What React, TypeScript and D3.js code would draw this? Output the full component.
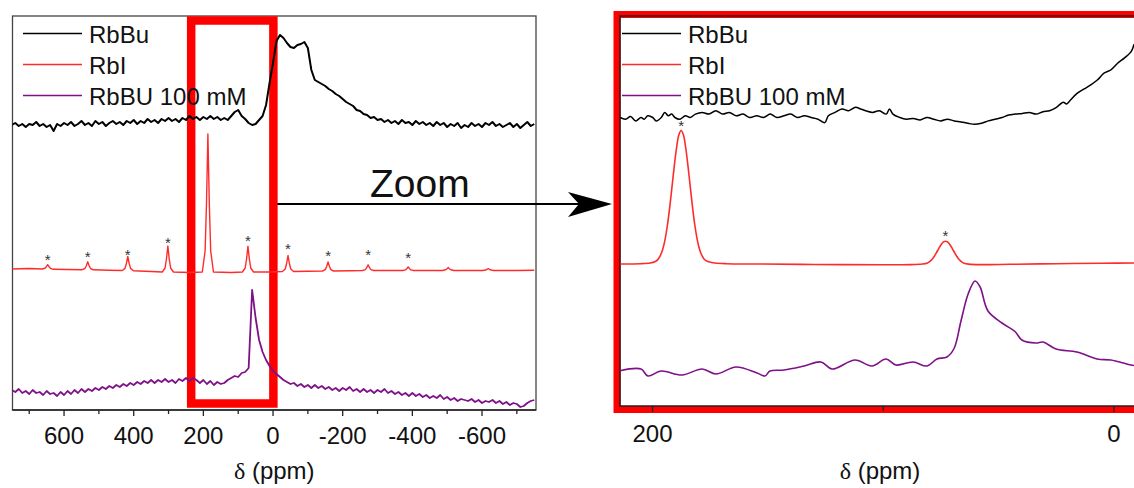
import React from 'react';
import * as d3 from 'd3';

const W = 1134;
const H = 488;

// ---------- shared ----------
const seriesNames = ['RbBu', 'RbI', 'RbBU 100 mM'];
const seriesColors = ['#000000', '#ff2b2b', '#7e1088'];
const axisTitle = 'δ (ppm)';
const zoomLabel = 'Zoom';

// ---------- left panel: full spectrum (ppm grid 750 → -750, step 10) ----------
const leftShift = d3.range(750, -751, -10);
// intensity relative to each trace's own baseline (a.u.)
const rbBuLeft = [
  0, 2, -1, 1, -2, 1, 0, 3, -1, 1,
  -2, 0, -6, 1, -1, 2, 0, 3, -1, 1,
  4, 0, 2, -1, 4, 1, 3, -1, 2, 4,
  1, 3, 0, 4, 2, 5, 1, 4, 2, 6,
  3, 5, 2, 6, 4, 7, 4, 6, 3, 7,
  5, 9, 6, 8, 5, 8, 6, 9, 6, 8,
  5, 7, 5, 9, 13, 15, 9, 6, 2, 0,
  1, 5, 9, 20, 42, 62, 84, 90, 87, 82,
  78, 77, 80, 81, 83, 77, 55, 45, 43, 41,
  39, 36, 34, 31, 29, 26, 23, 21, 19, 15,
  14, 11, 10, 7, 8, 5, 6, 3, 5, 2,
  4, 1, 5, 2, 3, 0, 4, 1, 3, 0,
  2, -1, 3, 0, 2, -2, 1, -1, 2, -3,
  0, -2, 2, -1, 1, -2, 2, 0, 3, -1,
  1, -2, 0, 2, -2, 1, -3, 0, 3, -1, 1,
];
const rbBU100Left = [
  0, -2, 1, -3, -1, -4, 0, -3, -2, -5, -1, -4,
  -3, -6, -2, -5, -1, -4, 0, -3, 1,
  -2, 1, -1, 2, 0, 3, 1, 4, 2, 5,
  3, 6, 4, 7, 5, 8, 6, 9, 7, 10,
  7, 10, 8, 11, 8, 10, 7, 11, 9, 12,
  9, 12, 10, 7, 10, 6, 9, 5, 8, 6,
  7, 10, 12, 14, 13, 17, 18, 22,
  100,
  72, 50, 38, 30, 24, 19, 16, 13, 10, 8, 6,
  7, 4, 6, 3, 5, 2, 5, 2, 4, 1,
  3, 0, 2, -1, 2, 0, 3, -1, 1, -2,
  1, -2, 0, -3, 0, -2, 1, -3, -1, -4,
  -2, -5, -3, -6, -3, -6, -4, -7, -5, -8,
  -6, -8, -5, -9, -7, -10, -8, -11, -9, -10,
  -11, -9, -12, -10, -13, -11, -12, -10, -13, -11,
  -14, -12, -15, -13, -14, -17, -16, -13, -11, -10,
];
const rbILeft: [number, number][] = [
  [750, 0], [700, 0.5], [663, 0], [655, 0.7], [651, 2.2], [647, 4.3], [643, 2.2], [639, 0.7], [631, -0.3],
  [590, -0.5], [548, -0.7], [540, 0.5], [536, 3.2], [532, 7.2], [528, 3.2], [524, 0.5], [516, -0.8],
  [470, -1.2], [433, -1.5], [425, 0.6], [421, 5.5], [417, 12.5], [413, 5.5], [409, 0.6], [401, -1.7],
  [350, -2.5], [318, -3], [310, 1], [306, 10], [302, 23], [298, 10], [294, 1], [286, -3],
  [240, -3.5], [203, -3], [195, 18], [191, 66], [187, 135], [183, 66], [179, 18], [171, -3],
  [120, -3.5], [88, -3], [80, 1], [76, 10], [72, 22.7], [68, 10], [64, 1], [56, -3],
  [10, -3], [-27, -2.5], [-35, 0], [-39, 5.5], [-43, 13.5], [-47, 5.5], [-51, 0], [-59, -2.5],
  [-100, -2.2], [-142, -2], [-150, -0.6], [-154, 2.5], [-158, 7], [-162, 2.5], [-166, -0.6], [-174, -2],
  [-220, -1.8], [-257, -1.5], [-265, -0.6], [-269, 1.3], [-273, 4.2], [-277, 1.3], [-281, -0.6], [-289, -1.5],
  [-330, -1.5], [-372, -1.5], [-380, -0.9], [-384, 0.3], [-388, 2.1], [-392, 0.3], [-396, -0.9], [-404, -1.5],
  [-450, -1.5], [-487, -1.5], [-495, -0.8], [-499, 0], [-503, 1.4], [-507, 0], [-511, -0.8], [-519, -1.5],
  [-570, -1.5], [-602, -1.5], [-610, -1], [-614, -0.5], [-618, 0.3], [-622, -0.5], [-626, -1], [-634, -1.5],
  [-700, -1.5], [-750, -1.2],
];
const rbIStarsLeft: [number, number][] = [
  [647, 12.5], [532, 15.3], [417, 18], [302, 30], [72, 31.6],
  [-43, 23.2], [-158, 16.6], [-273, 17.8], [-388, 14.5],
];
const leftOffsets = [285, 141, 20];
const leftMajorTicks = [600, 400, 200, 0, -200, -400, -600];
const leftMinorTicks = [700, 500, 300, 100, -100, -300, -500, -700];
const zoomWindow = [235, -1];

// ---------- right panel: zoom 214 → -11 ppm ----------
const rbBuRight: [number, number][] = [
  [214, -0.5], [211.7, -2.2], [209.5, 0.5], [207.3, -3.9], [205, -0.5], [203.6, -2.2], [202.1, 1.2],
  [199.9, -0.5], [198.4, -3.9], [196.2, -0.5], [194.7, 4.6], [193.2, 1.2], [191.7, 2.9], [190.3, -0.5],
  [188.1, -2.2], [185.8, 1.2], [183.6, -0.5], [181.4, 2.9], [178.5, 4.6], [175.5, 2.9], [172.6, 6.3],
  [169.6, 2.9], [166.7, 4.6], [163.7, 1.2], [160.8, 2.9], [157.8, -0.5], [154.8, 1.2], [151.9, -0.5],
  [149, 2.9], [146, -0.5], [143, 1.2], [140.1, 2.9], [137.1, -0.5], [134.2, 1.2], [131.2, -0.5],
  [128.3, -2.2], [125.3, -5.6], [123.8, 1.2], [120.9, 4.6], [117.9, 8.0], [115, 6.3], [112, 9.7],
  [109.8, 8.0], [107.6, 6.3], [104.6, 4.6], [101.7, 6.3], [98.7, 2.9], [97.3, 8.0], [95.8, 2.9],
  [92.8, -0.5], [89.9, -2.2], [86.9, -1.5], [84, -2.9], [81, -0.5], [78.1, -2.2], [75.1, -3.9],
  [72.2, -2.2], [69.2, -3.9], [66.3, -4.9], [63.3, -6.3], [60.4, -7.3], [57.4, -6.3], [54.5, -3.9],
  [51.5, -2.2], [48.5, -0.5], [45.6, 1.9], [42.6, 2.9], [39.7, 3.6], [36.7, 4.6], [33.8, 2.9],
  [30.8, 5.3], [27.9, 6.3], [24.9, 9.7], [22, 14.8], [20.5, 13.1], [19, 16.5], [16.1, 23.3],
  [13.1, 27.8], [10.2, 31.9], [7.2, 37], [4.3, 43.8], [1.3, 47.2], [-1.7, 54], [-4.6, 59.1],
  [-7.6, 65.9], [-8.7, 72.7],
];
const rbIRight: [number, number][] = [
  [214, 0], [205, 0.3], [201, 1], [199, 2.2], [197.6, 4.6], [196.6, 8.5], [195.6, 14.5], [194.6, 24.1],
  [193.6, 38], [192.6, 55.7], [191.6, 76.3], [190.6, 97.4], [189.6, 116], [188.6, 129], [187.6, 133.5],
  [186.6, 129], [185.6, 116], [184.6, 97.4], [183.6, 76.3], [182.6, 55.7], [181.6, 38], [180.6, 24.1],
  [179.6, 14.5], [178.6, 8.5], [177.6, 4.8], [176, 2.4], [173, 1], [168, 0.3], [155, 0], [130, -0.5],
  [100, -0.8], [88, -0.6], [83, 0], [81, 0.8], [80, 2.1], [79, 4.2], [78, 7.2], [77, 11.1], [76, 15.2],
  [75, 19], [74, 21.8], [73, 22.7], [72, 21.8], [71, 19], [70, 15.2], [69, 11.1], [68, 7.2], [67, 4.2],
  [66, 2.1], [65, 0.8], [63, -0.1], [58, -0.6], [45, -0.3], [25, 0.3], [5, 0.8], [-11, 1],
];
const rbBU100Right: [number, number][] = [
  [214.1, -0.7], [205, 1], [202, -6], [196.3, -1], [187.2, -5], [178.5, 1], [172.5, -4], [163.8, 3],
  [154.7, -3], [151.2, -6], [149.1, -1], [143, 0], [134.3, 4], [127, 8], [122.2, 1], [112.2, 10],
  [104.9, 4], [98.8, 11], [94.5, 5], [87.1, 8], [81, 4], [76.7, 11], [72.4, 13], [69.3, 21.5],
  [66.3, 49], [63.2, 76], [60.2, 89], [58, 83], [54.6, 59], [48.5, 47], [42.9, 38.5], [39.9, 30],
  [33.8, 27], [30.7, 28], [25.1, 21], [16, 18], [7.3, 11], [1.3, 10], [-7.4, 5], [-11, 4],
];
const rbIStarsRight: [number, number][] = [[187.6, 141.5], [73, 31.5]];
const rightOffsets = [289, 142, 36];
const rightMajorTicks = [200, 0];
const rightMinorTicks = [100];

const FONT = '"Liberation Sans", Arial, Helvetica, sans-serif';
const SERIF = '"Liberation Serif", "Times New Roman", serif';

export default function App() {
  const L = { x0: 12.5, x1: 536, y0: 16, y1: 410 };
  const R = { x0: 620, x1: 1140, y0: 16, y1: 406 };

  const xL = d3.scaleLinear().domain([748, -755]).range([L.x0, L.x1]);
  const yL = d3.scaleLinear().domain([0, 394]).range([L.y1, L.y0]);
  const xR = d3.scaleLinear().domain([214.1, -11.3]).range([R.x0, R.x1]);
  const yR = d3.scaleLinear().domain([0, 390]).range([R.y1, R.y0]);

  const lineL = (off: number) =>
    d3.line<[number, number]>().x((d) => xL(d[0])).y((d) => yL(d[1] + off));
  const lineR = (off: number) =>
    d3.line<[number, number]>().x((d) => xR(d[0])).y((d) => yR(d[1] + off)).curve(d3.curveCatmullRom.alpha(0.5));

  const zip = (vals: number[]) => leftShift.map((s, i) => [s, vals[i]] as [number, number]);

  const leftPaths = [
    lineL(leftOffsets[0])(zip(rbBuLeft)),
    lineL(leftOffsets[1])(rbILeft),
    lineL(leftOffsets[2])(zip(rbBU100Left)),
  ];
  const rightPaths = [
    lineR(rightOffsets[0])(rbBuRight),
    lineR(rightOffsets[1])(rbIRight),
    lineR(rightOffsets[2])(rbBU100Right),
  ];
  const widthsL = [2, 1.4, 1.8];
  const widthsR = [1.5, 1.6, 1.6];

  const legendYs = [33.5, 64.5, 95.5];

  const legend = (x0: number) => (
    <g>
      {seriesNames.map((n, i) => (
        <g key={n}>
          <line x1={x0} x2={x0 + 59} y1={legendYs[i]} y2={legendYs[i]} stroke={seriesColors[i]} strokeWidth={1.6} />
          <text x={x0 + 66} y={legendYs[i] + 1} dominantBaseline="central" fontSize={24} fontFamily={FONT} fill="#111">
            {n}
          </text>
        </g>
      ))}
    </g>
  );

  const star = (x: number, y: number, k: string) => (
    <text key={k} x={x} y={y + 8.6} textAnchor="middle" fontSize={15} fontFamily={FONT} fill="#333">
      *
    </text>
  );

  const title = (cx: number) => (
    <text x={cx} y={479} textAnchor="middle" fontSize={24} fontFamily={FONT} fill="#111">
      <tspan fontFamily={SERIF}>{axisTitle.slice(0, 1)}</tspan>
      {axisTitle.slice(1)}
    </text>
  );

  const boxX0 = xL(zoomWindow[0]);
  const boxX1 = xL(zoomWindow[1]);

  return (
    <svg width={W} height={H} viewBox={`0 0 ${W} ${H}`} style={{ position: 'absolute', left: 0, top: 0, background: '#fff' }}>
      <defs>
        <clipPath id="clipL">
          <rect x={L.x0} y={L.y0} width={L.x1 - L.x0} height={L.y1 - L.y0} />
        </clipPath>
        <clipPath id="clipR">
          <rect x={R.x0} y={R.y0} width={R.x1 - R.x0} height={R.y1 - R.y0} />
        </clipPath>
      </defs>

      {/* ---------------- LEFT PANEL ---------------- */}
      <rect x={L.x0} y={L.y0} width={L.x1 - L.x0} height={L.y1 - L.y0} fill="none" stroke="#444" strokeWidth={1.3} />
      <rect
        x={boxX0}
        y={L.y0 + 4.5}
        width={boxX1 - boxX0}
        height={L.y1 - L.y0 - 11}
        fill="none"
        stroke="#ff0000"
        strokeWidth={8.5}
      />
      {legend(23)}
      <g clipPath="url(#clipL)">
        {leftPaths.map((p, i) => (
          <path key={i} d={p || ''} fill="none" stroke={seriesColors[i]} strokeWidth={widthsL[i]} strokeLinejoin="round" />
        ))}
      </g>
      {rbIStarsLeft.map((s, i) => star(xL(s[0]), yL(s[1] + leftOffsets[1]), 'sl' + i))}
      <line x1={L.x0} x2={L.x1} y1={L.y1} y2={L.y1} stroke="#222" strokeWidth={1.5} />
      {leftMajorTicks.map((t) => (
        <g key={'lm' + t}>
          <line x1={xL(t)} x2={xL(t)} y1={L.y1} y2={L.y1 + 6} stroke="#222" strokeWidth={1.3} />
          <text x={xL(t)} y={444} textAnchor="middle" fontSize={24} fontFamily={FONT} fill="#111">
            {t}
          </text>
        </g>
      ))}
      {leftMinorTicks.map((t) => (
        <line key={'ln' + t} x1={xL(t)} x2={xL(t)} y1={L.y1} y2={L.y1 + 4} stroke="#222" strokeWidth={1.3} />
      ))}
      {title((L.x0 + L.x1) / 2)}

      {/* ---------------- ZOOM ARROW ---------------- */}
      <text x={370} y={197} fontSize={39} fontFamily={FONT} fill="#111">
        {zoomLabel}
      </text>
      <line x1={boxX1 + 4} x2={582} y1={204} y2={204} stroke="#000" strokeWidth={2} />
      <path d="M612,204 L568,192 L579,204 L568,217 Z" fill="#000" />

      {/* ---------------- RIGHT PANEL ---------------- */}
      <rect x={617} y={14.5} width={600} height={395} fill="none" stroke="#ff0000" strokeWidth={7} />
      <rect x={R.x0} y={R.y0} width={R.x1 - R.x0} height={R.y1 - R.y0} fill="none" stroke="#222" strokeWidth={1.5} />
      {legend(622)}
      <g clipPath="url(#clipR)">
        {rightPaths.map((p, i) => (
          <path key={i} d={p || ''} fill="none" stroke={seriesColors[i]} strokeWidth={widthsR[i]} strokeLinejoin="round" />
        ))}
      </g>
      {rbIStarsRight.map((s, i) => star(xR(s[0]), yR(s[1] + rightOffsets[1]), 'sr' + i))}
      {rightMajorTicks.map((t) => (
        <g key={'rm' + t}>
          <line x1={xR(t)} x2={xR(t)} y1={R.y1} y2={R.y1 + 6} stroke="#222" strokeWidth={1.3} />
          <text x={xR(t)} y={442} textAnchor="middle" fontSize={24} fontFamily={FONT} fill="#111">
            {t}
          </text>
        </g>
      ))}
      {rightMinorTicks.map((t) => (
        <line key={'rn' + t} x1={xR(t)} x2={xR(t)} y1={R.y1} y2={R.y1 + 5} stroke="#222" strokeWidth={1.3} />
      ))}
      {title(880)}
    </svg>
  );
}
